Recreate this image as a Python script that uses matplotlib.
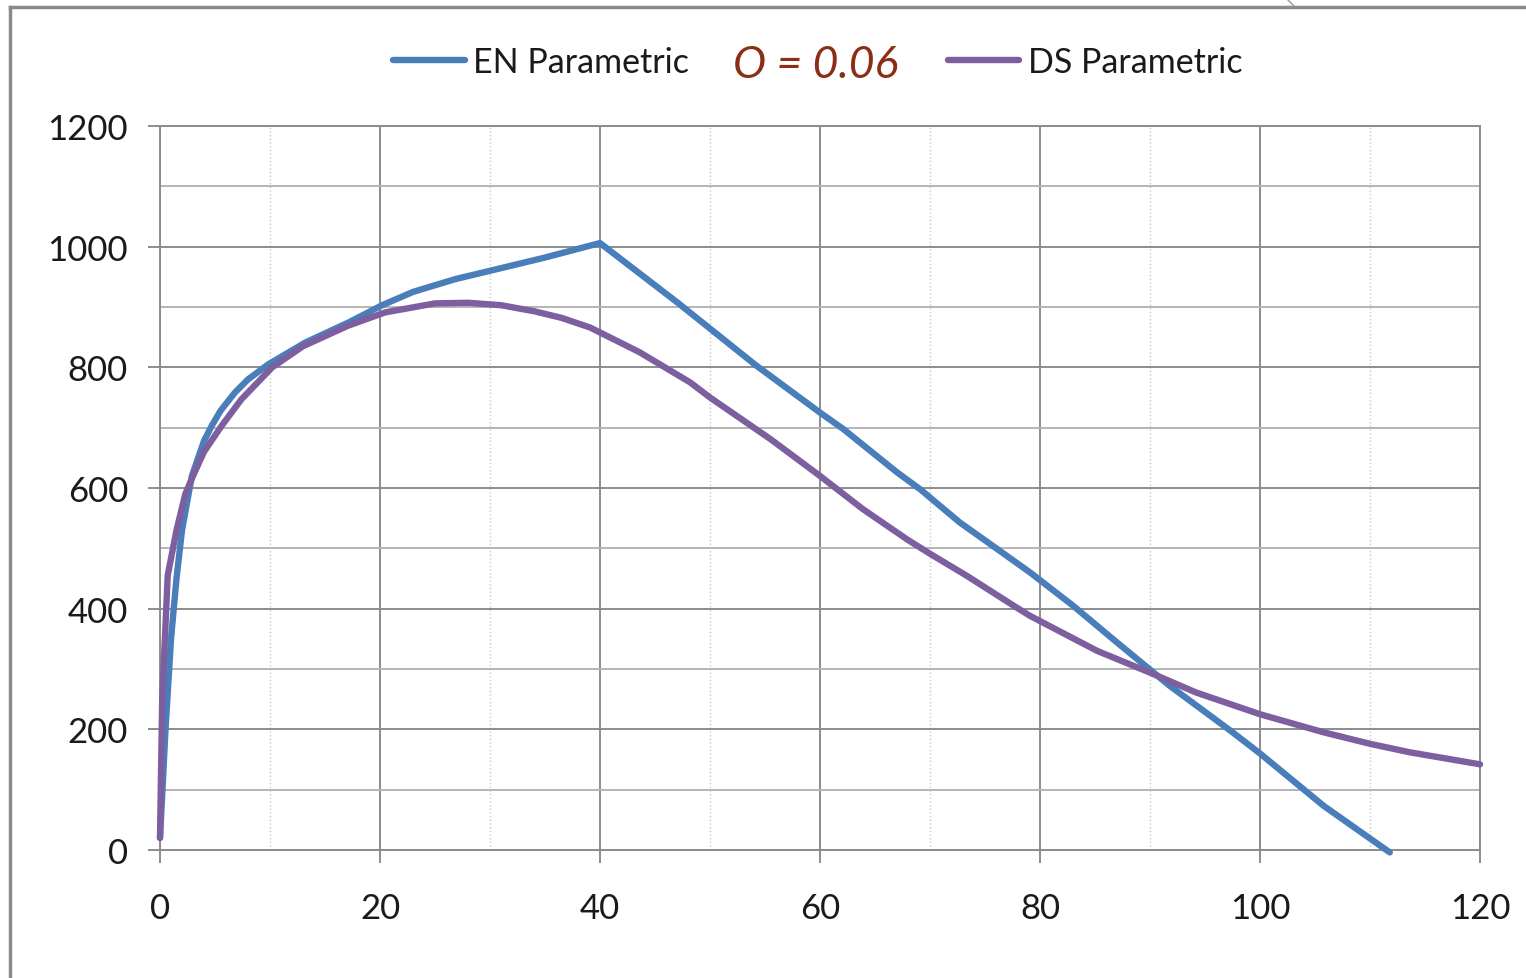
import numpy as np
import matplotlib.pyplot as plt
from matplotlib.lines import Line2D

# EN parametric curve (peak at 40, then near-linear descent)
en_x = [0, 0.5, 1, 1.5, 2, 2.9, 4, 4.7, 5.5, 6.8, 8, 9.85, 13.2, 17.1, 20.2,
        23, 26.8, 30, 35, 40, 47, 54.2, 60, 62.1, 67, 69.1, 72.7, 76.1, 79.1,
        83, 87, 91.8, 97.3, 100, 105.8, 111.8]
en_y = [20, 200, 350, 450, 530, 620, 678, 703, 728, 758, 780, 805, 841, 874,
        903, 925, 946, 960, 982, 1006, 908, 803, 725, 698, 626, 598, 543, 499,
        460, 405, 344, 272, 198, 160, 73, -4]

# DS parametric curve
ds_x = [0, 0.2, 0.7, 1.5, 2.3, 3, 4, 5.6, 7.4, 10.2, 13, 17.1, 20.45, 25, 28,
        31, 34, 36.5, 39.1, 43.6, 48.2, 50, 55.5, 60, 63.9, 67.9, 70, 73.3,
        77.6, 79.1, 85.2, 90, 94.2, 100, 105.8, 110, 113.6, 120]
ds_y = [20, 250, 455, 530, 590, 620, 660, 703, 747, 800, 835, 869, 891, 906,
        907, 903, 893, 882, 866, 825, 775, 750, 681, 620, 565, 515, 491, 455,
        405, 388, 330, 294, 261, 225, 195, 176, 162, 142]

label_font = 'Lato'
blue = '#4A7EBB'
purple = '#7D5FA0'

fig = plt.figure(figsize=(15.26, 9.79), dpi=100, facecolor='w')
ax = fig.add_axes([160 / 1526, 1 - 851 / 979, 1320 / 1526, 724 / 979])

ax.plot(en_x, en_y, color=blue, lw=4.6, label='EN Parametric',
        solid_capstyle='round', solid_joinstyle='round', clip_on=False,
        zorder=3)
ax.plot(ds_x, ds_y, color=purple, lw=4.6, label='DS Parametric',
        solid_capstyle='round', solid_joinstyle='round', clip_on=False,
        zorder=3)

ax.set_xlim(0, 120)
ax.set_ylim(0, 1200)
ax.set_xticks(np.arange(0, 121, 20))
ax.set_yticks(np.arange(0, 1201, 200))
ax.set_xticks(np.arange(10, 120, 20), minor=True)
ax.set_yticks(np.arange(100, 1200, 200), minor=True)

# gridlines: solid major, dotted vertical minor
ax.grid(which='major', color='#8c8c8c', lw=1.4)
ax.grid(which='minor', axis='y', color='#b4b4b4', lw=1.4)
ax.grid(which='minor', axis='x', color='#c8c8c8', lw=1.0, ls=':')
ax.set_axisbelow(True)

for sp in ax.spines.values():
    sp.set_color('#8c8c8c')
    sp.set_linewidth(1.4)

ax.tick_params(which='major', length=9, width=1.4, color='#8c8c8c',
               labelsize=25, labelcolor='#1a1a1a')
ax.tick_params(axis='y', pad=14)
ax.tick_params(axis='x', pad=21)
ax.tick_params(which='minor', length=0)
for lbl in ax.get_xticklabels() + ax.get_yticklabels():
    lbl.set_fontfamily(label_font)

leg = fig.legend(loc='center', bbox_to_anchor=(818 / 1526, 1 - 63 / 979),
                 ncol=2, frameon=False,
                 prop={'family': label_font, 'size': 24.5},
                 handlelength=2.1, handletextpad=0.25, columnspacing=7.6)
for t in leg.get_texts():
    t.set_color('#1a1a1a')

fig.text(816 / 1526, 1 - 66 / 979, 'O = 0.06', ha='center', va='center',
         fontsize=32, style='italic', color='#8B2E16', family=label_font)

# outer frame
fig.add_artist(Line2D([10 / 1526, 10 / 1526], [0, 1 - 8 / 979],
                      transform=fig.transFigure, color='#8a8a8a', lw=2.5))
fig.add_artist(Line2D([10 / 1526, 1], [1 - 8 / 979, 1 - 8 / 979],
                      transform=fig.transFigure, color='#8a8a8a', lw=2.5))
fig.add_artist(Line2D([1287 / 1526, 1294 / 1526], [1, 1 - 7 / 979],
                      transform=fig.transFigure, color='#999999', lw=1.0))

fig.savefig('out.png', dpi=100, facecolor='w')
